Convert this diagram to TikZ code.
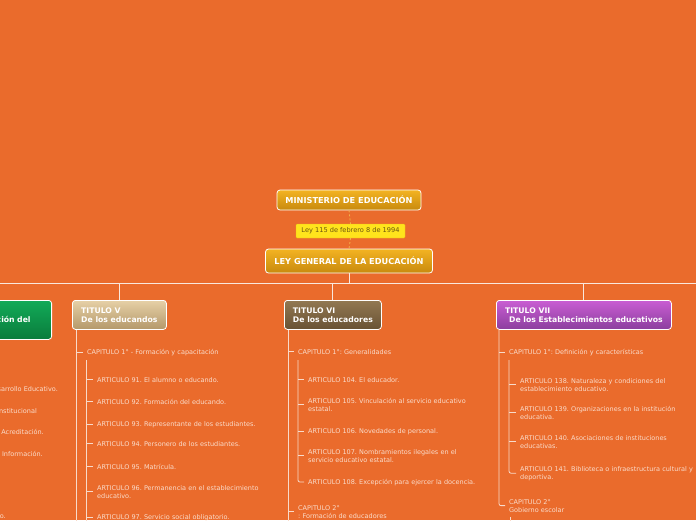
\documentclass[tikz,border=0pt]{standalone}
\usepackage{fontspec}
\setmainfont{DejaVu Sans}
\frenchspacing
\definecolor{bgc}{HTML}{EA6B2C}
\definecolor{txtc}{HTML}{FADCCB}
\definecolor{linec}{HTML}{F8DACA}
\definecolor{mainc}{HTML}{F9E8DE}
\definecolor{goldt}{HTML}{F3B322}
\definecolor{goldb}{HTML}{C88A0E}
\definecolor{leyf}{HTML}{FFE41C}
\definecolor{leyd}{HTML}{E8B818}
\definecolor{leyt}{HTML}{6A5410}
\definecolor{dashc}{HTML}{F2B24A}
\definecolor{grt}{HTML}{12AA58}
\definecolor{grb}{HTML}{0A7C3C}
\definecolor{bgt}{HTML}{E6D0A6}
\definecolor{bgb}{HTML}{B4986A}
\definecolor{brt}{HTML}{927852}
\definecolor{brb}{HTML}{695234}
\definecolor{put}{HTML}{C95ED3}
\definecolor{pub}{HTML}{8C3E9E}
\tikzset{
  tbox/.style={anchor=north west, draw=white, line width=0.8pt, rounded corners=3pt,
    inner xsep=8pt, inner ysep=0pt, text=white,
    font=\bfseries\fontsize{7.7}{9}\selectfont, align=left},
  topfont/.style={font=\bfseries\fontsize{8.2}{9}\selectfont},
  item/.style={anchor=base west, inner xsep=4pt, inner ysep=0pt, text=txtc,
    font=\fontsize{6.5}{8}\selectfont, align=left, text width=230pt},
  itemr/.style={anchor=base east, inner sep=0pt, text=txtc,
    font=\fontsize{6.5}{8}\selectfont},
  conn/.style={draw=linec, line width=0.8pt},
  mainline/.style={draw=mainc, line width=1pt},
  dashline/.style={draw=dashc, line width=0.8pt, dash pattern=on 2pt off 2pt},
}
\begin{document}
\begin{tikzpicture}[x=1pt,y=-1pt]
\fill[bgc] (0,0) rectangle (696,520);
\useasboundingbox (0,0) rectangle (696,520);
\clip (0,0) rectangle (696,520);

% top nodes
\node[tbox, topfont, anchor=center, align=center, top color=goldt, bottom color=goldb,
  minimum width=144pt, minimum height=20pt] (min) at (349,200)
  {MINISTERIO DE EDUCACIÓN};
\node[draw=leyd, fill=leyf, rounded corners=1pt, minimum width=109pt, minimum height=14pt,
  inner sep=0pt, font=\fontsize{6.6}{7}\selectfont, text=leyt] (ley) at (350.5,231)
  {Ley 115 de febrero 8 de 1994};
\node[tbox, topfont, anchor=center, align=center, top color=goldt, bottom color=goldb,
  minimum width=167pt, minimum height=24pt] (lg) at (349,261)
  {LEY GENERAL DE LA EDUCACIÓN};
\draw[dashline] (min.south) -- (ley.north);
\draw[dashline] (ley.south) -- (lg.north);

% titles
\node[tbox, anchor=north east, align=right, top color=grt, bottom color=grb,
  minimum width=240pt, minimum height=39pt, text width=224pt] (t4) at (52,300)
  {Organización para la prestación del\hspace*{13pt}};
\node[tbox, top color=bgt, bottom color=bgb, minimum width=94pt, minimum height=29pt]
  (t5) at (72,300) {TITULO V\\De los educandos};
\node[tbox, top color=brt, bottom color=brb, minimum width=97pt, minimum height=29pt]
  (t6) at (284,300) {TITULO VI\\De los educadores};
\node[tbox, top color=put, bottom color=pub, minimum width=175pt, minimum height=29pt]
  (t7) at (496,300) {TITULO VII\\\hspace*{4pt}De los Establecimientos educativos};

% main connectors
\coordinate (hl) at (-2,283);
\coordinate (hr) at (698,283);
\draw[mainline] (lg.south) -- (lg.south |- hl);
\draw[mainline] (hl) -- (hr);
\foreach \t in {t4,t5,t6,t7} \draw[mainline] (\t.north) -- (\t.north |- hl);

% Titulo IV (mostly off the left edge)
\node[itemr] (a72) at (58,391) {ARTICULO 72. Plan Nacional de Desarrollo Educativo.};
\node[itemr] (a73) at (37,413) {ARTICULO 73. Proyecto Educativo Institucional};
\node[itemr] (a74) at (44,434) {ARTICULO 74. Sistema Nacional de Acreditación.};
\node[itemr] (a75) at (43,456) {ARTICULO 75. Sistema Nacional de Información.};
\node[itemr] (a76) at (6,518) {ARTICULO 76. Concepto de currículo.};

% Titulo V
\node[item] (c51) at (83,354) {CAPITULO 1° - Formación y capacitación};
\node[item] (a91) at (93,382) {ARTICULO 91. El alumno o educando.};
\node[item] (a92) at (93,404) {ARTICULO 92. Formación del educando.};
\node[item] (a93) at (93,426) {ARTICULO 93. Representante de los estudiantes.};
\node[item] (a94) at (93,446) {ARTICULO 94. Personero de los estudiantes.};
\node[item] (a95) at (93,469) {ARTICULO 95. Matrícula.};
\node[item] (a96) at (93,490) {ARTICULO 96. Permanencia en el establecimiento\\educativo.};
\node[item] (a97) at (93,519) {ARTICULO 97. Servicio social obligatorio.};
\coordinate (v5) at ([xshift=4pt]t5.south west);
\coordinate (v5e) at (v5 |- 0,530);
\draw[conn] (v5) -- (v5e);
\draw[conn] (c51.west -| v5) -- (c51.west);
\coordinate (w5) at (86,360);
\coordinate (w5e) at (86,530);
\draw[conn] (w5) -- (w5e);
\foreach \a in {a91,a92,a93,a94,a95,a96,a97} \draw[conn] (\a.west -| w5) -- (\a.west);

% Titulo VI
\node[item] (c61) at (294,354) {CAPITULO 1°: Generalidades};
\node[item] (a104) at (304,382) {ARTICULO 104. El educador.};
\node[item] (a105) at (304,403) {ARTICULO 105. Vinculación al servicio educativo\\estatal.};
\node[item] (a106) at (304,433) {ARTICULO 106. Novedades de personal.};
\node[item] (a107) at (304,454) {ARTICULO 107. Nombramientos ilegales en el\\servicio educativo estatal.};
\node[item] (a108) at (304,484) {ARTICULO 108. Excepción para ejercer la docencia.};
\node[item] (c62) at (294,510) {CAPITULO 2°\\: Formación de educadores};
\coordinate (v6) at ([xshift=4pt]t6.south west);
\coordinate (v6e) at (v6 |- 0,530);
\draw[conn] (v6) -- (v6e);
\foreach \c in {c61,c62} \draw[conn] (\c.west -| v6) -- (\c.west);
\coordinate (w6) at (298,360);
\draw[conn, rounded corners=2pt] (w6) |- (a108.west);
\foreach \a in {a104,a105,a106,a107} \draw[conn] (\a.west -| w6) -- (\a.west);

% Titulo VII
\node[item] (c71) at (505,354) {CAPITULO 1°: Definición y características};
\node[item] (a138) at (516,383) {ARTICULO 138. Naturaleza y condiciones del\\establecimiento educativo.};
\node[item] (a139) at (516,411) {ARTICULO 139. Organizaciones en la institución\\educativa.};
\node[item] (a140) at (516,440) {ARTICULO 140. Asociaciones de instituciones\\educativas.};
\node[item] (a141) at (516,471) {ARTICULO 141. Biblioteca o infraestructura cultural y\\deportiva.};
\node[item] (c72) at (505,504) {CAPITULO 2°\\Gobierno escolar};
\coordinate (v7) at ([xshift=3pt]t7.south west);
\draw[conn, rounded corners=2pt] (v7) |- (c72.west);
\draw[conn] (c71.west -| v7) -- (c71.west);
\coordinate (w7) at (509,360);
\draw[conn, rounded corners=2pt] (w7) |- (a141.west);
\foreach \a in {a138,a139,a140} \draw[conn] (\a.west -| w7) -- (\a.west);
\coordinate (x7) at (510,517);
\coordinate (x7e) at (510,530);
\draw[conn] (x7) -- (x7e);
\end{tikzpicture}
\end{document}
